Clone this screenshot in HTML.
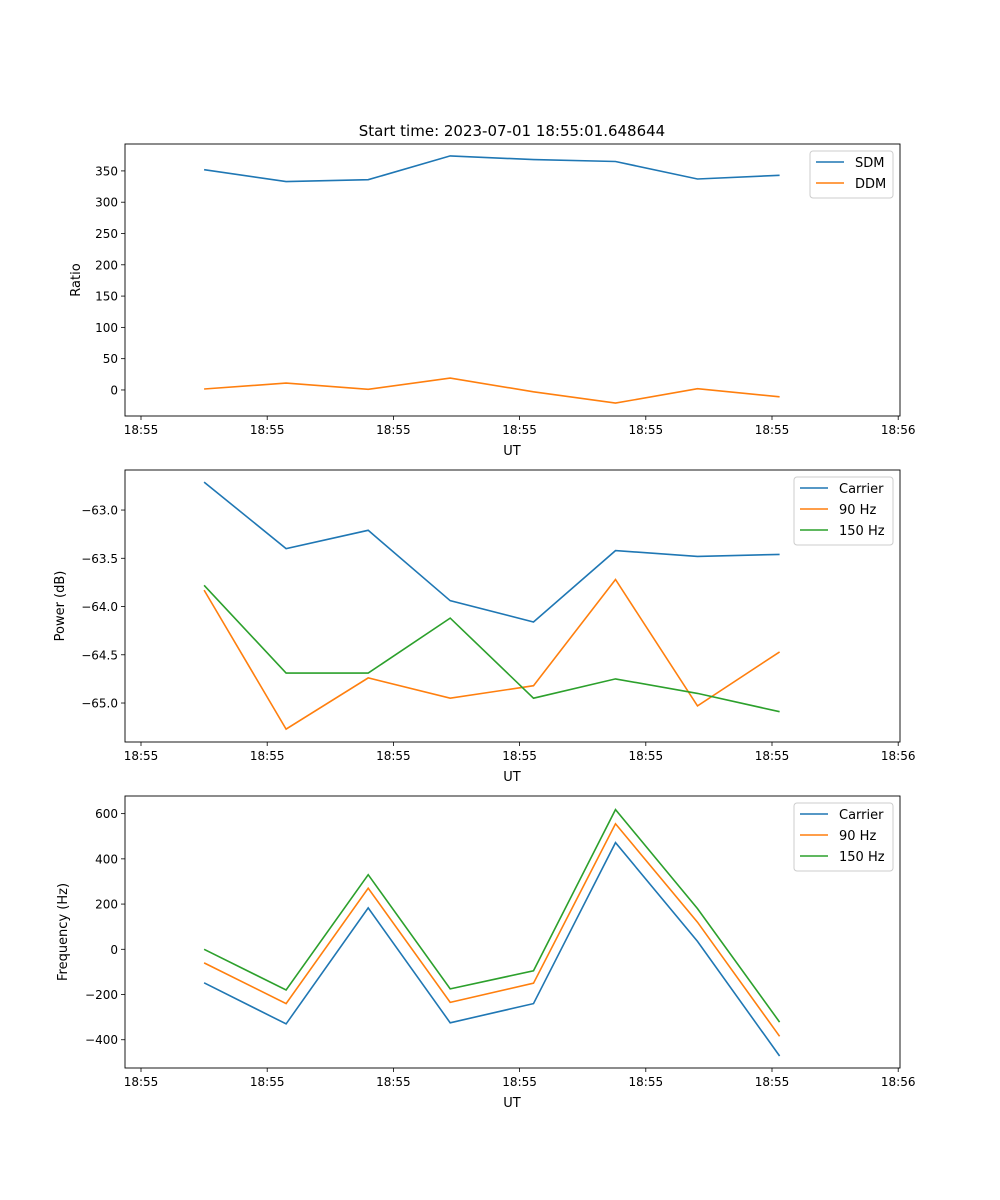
<!DOCTYPE html>
<html><head><meta charset="utf-8"><style>
html,body{margin:0;padding:0;background:#fff;}
svg{display:block;font-family:"DejaVu Sans","Liberation Sans",sans-serif;}
</style></head><body>
<svg id="chart" width="1000" height="1200" viewBox="0 0 1000 1200" xmlns="http://www.w3.org/2000/svg">
<text x="512" y="136" font-size="15" text-anchor="middle">Start time: 2023-07-01 18:55:01.648644</text>
</svg>
<script>
const xTickLabels = ["18:55","18:55","18:55","18:55","18:55","18:55","18:56"];
const xVals = [0.5,1.15,1.8,2.45,3.11,3.76,4.41,5.06];
const sdm = [352,333,336,374,368,365,337,343];
const ddm = [1.6,11,1,19,-3,-21,2,-11];
const pCarrier = [-62.71,-63.40,-63.21,-63.94,-64.16,-63.42,-63.48,-63.46];
const p90 = [-63.83,-65.27,-64.74,-64.95,-64.82,-63.72,-65.03,-64.47];
const p150 = [-63.78,-64.69,-64.69,-64.12,-64.95,-64.75,-64.90,-65.09];
const fCarrier = [-148,-330,183,-325,-240,472,35,-472];
const f90 = [-60,-240,270,-235,-150,555,120,-385];
const f150 = [0,-180,330,-175,-95,618,180,-322];
const ticks1 = [0,50,100,150,200,250,300,350];
const ticks2 = [-65.0,-64.5,-64.0,-63.5,-63.0];
const ticks3 = [-400,-200,0,200,400,600];

const svg = document.getElementById('chart');
const NS = "http://www.w3.org/2000/svg";
function mk(tag, attrs, parent){const e=document.createElementNS(NS,tag);for(const k in attrs)e.setAttribute(k,attrs[k]);(parent||svg).appendChild(e);return e;}
const X0=125,X1=900;
function xs(v){return 141+v*126.2;}

function panel(idx, top, bottom, yMin, yMax, yTicks, fmt, ylabel, series, leg){
  const g = mk('g',{});
  
  
  const ys = v => bottom - (v-yMin)/(yMax-yMin)*(bottom-top);
  xTickLabels.forEach((t,i)=>{
    const x=xs(i);
    mk('line',{x1:x,x2:x,y1:bottom,y2:bottom+4,stroke:'#000','stroke-width':0.8},g);
    const tx=mk('text',{x:x,y:bottom+18,'font-size':12,'text-anchor':'middle'},g);
    
    
    tx.textContent=t;
  });
  const xl=mk('text',{x:512,y:bottom+39,'font-size':13,'text-anchor':'middle'},g);
  
  
  xl.textContent='UT';
  yTicks.forEach(v=>{
    const y=ys(v);
    mk('line',{x1:X0-4,x2:X0,y1:y,y2:y,stroke:'#000','stroke-width':0.8},g);
    const tx=mk('text',{x:X0-7,y:y+4.5,'font-size':12,'text-anchor':'end'},g);
    
    
    tx.textContent=fmt(v);
  });
  const yl=mk('text',{x:0,y:0,'font-size':13,'text-anchor':'middle',transform:`translate(${leg.ylx},${(top+bottom)/2}) rotate(-90)`},g);
  
  
  yl.textContent=ylabel;
  series.forEach(s=>{
    const pts=s.data.map((v,i)=>xs(xVals[i]).toFixed(1)+','+ys(v).toFixed(1)).join(' ');
    const pl=mk('polyline',{points:pts,fill:'none',stroke:s.color,'stroke-width':1.6},g);
    
    
  });
  mk('rect',{x:X0,y:top,width:X1-X0,height:bottom-top,fill:'none',stroke:'#000','stroke-width':0.9},g);
  const lg=mk('g',{},g);
  
  
  mk('rect',{x:leg.x,y:top+7,width:893-leg.x,height:series.length*21+5,rx:3,fill:'#fff',stroke:'#ccc','stroke-width':1},lg);
  series.forEach((s,i)=>{
    const y=top+18+i*21;
    mk('line',{x1:leg.x+6,x2:leg.x+34,y1:y,y2:y,stroke:s.color,'stroke-width':1.6},lg);
    const t=mk('text',{x:leg.x+45,y:y+5,'font-size':13},lg);
    
    
    t.textContent=s.name;
  });
}
const B='#1f77b4',O='#ff7f0e',G='#2ca02c';
panel(1,144,416,-41.6,393,ticks1,v=>String(v).replace('-','\u2212'),'Ratio',
  [{name:'SDM',data:sdm,color:B},{name:'DDM',data:ddm,color:O}],{x:810,ylx:80});
panel(2,470,742,-65.404,-62.585,ticks2,v=>v.toFixed(1).replace('-','\u2212'),'Power (dB)',
  [{name:'Carrier',data:pCarrier,color:B},{name:'90 Hz',data:p90,color:O},{name:'150 Hz',data:p150,color:G}],{x:794,ylx:64});
panel(3,796,1068,-525,678,ticks3,v=>String(v).replace('-','\u2212'),'Frequency (Hz)',
  [{name:'Carrier',data:fCarrier,color:B},{name:'90 Hz',data:f90,color:O},{name:'150 Hz',data:f150,color:G}],{x:794,ylx:67});
</script>
</body></html>
